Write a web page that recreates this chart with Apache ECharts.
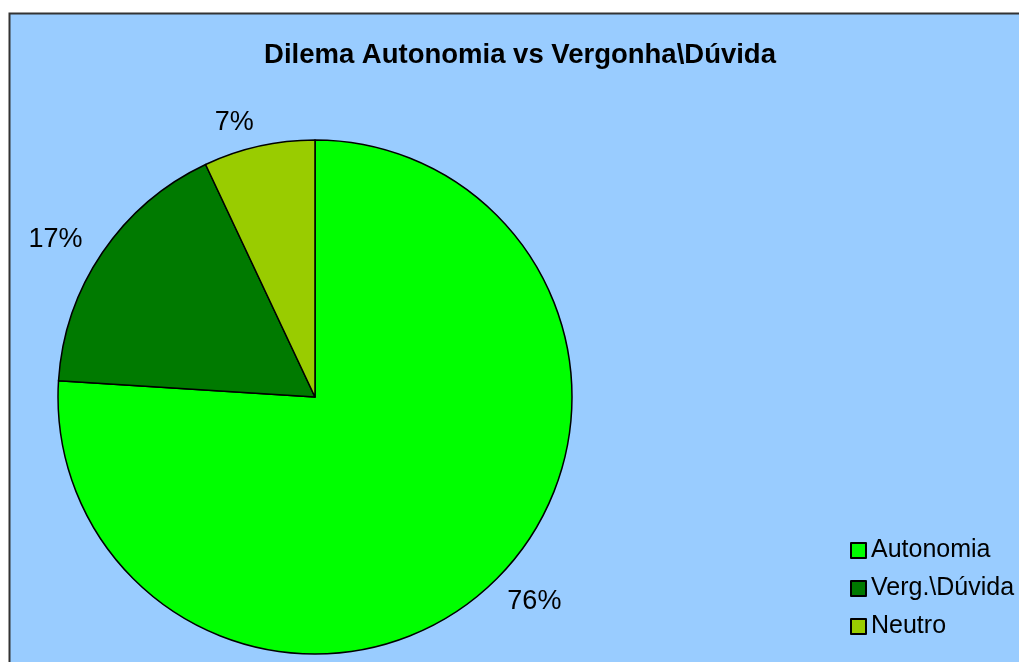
<!DOCTYPE html>
<html>
<head>
<meta charset="utf-8">
<script src="https://cdn.jsdelivr.net/npm/echarts@6/dist/echarts.min.js"></script>
<style>
html, body { margin: 0; padding: 0; background: #fff; }
#chart { width: 1019px; height: 662px; }
</style>
</head>
<body>
<div id="chart"></div>
<script>
"use strict";
var categories = ["Autonomia", "Verg.\\Dúvida", "Neutro"];
var values = [76, 17, 7];
var colors = ["#00FF00", "#007A00", "#99CC00"];

var chart = echarts.init(document.getElementById("chart"));

var data = categories.map(function (name, i) {
    return {name: name, value: values[i], itemStyle: {color: colors[i]}};
});

var options = {
    animation: false,
    backgroundColor: "#ffffff",
    textStyle: {fontFamily: "Liberation Sans, Arial, sans-serif"},
    graphic: [{
        type: "rect",
        z: -10,
        shape: {x: 9.5, y: 13.5, width: 1020, height: 660},
        style: {fill: "#99CCFF", stroke: "#333333", lineWidth: 2}
    }],
    title: {
        text: "Dilema Autonomia vs Vergonha\\Dúvida",
        left: 515,
        textAlign: "center",
        top: 36,
        textStyle: {fontSize: 27.5, fontWeight: "bold", color: "#000", fontFamily: "Liberation Sans"}
    },
    legend: {
        orient: "vertical",
        left: 845,
        top: 533,
        itemWidth: 15,
        itemHeight: 15,
        itemGap: 13,
        icon: "rect",
        textStyle: {fontSize: 25, color: "#000", fontFamily: "Liberation Sans"},
        data: categories
    },
    series: [{
        name: "Dilema",
        type: "pie",
        center: [315, 397],
        radius: 257,
        startAngle: 90,
        clockwise: true,
        data: data,
        itemStyle: {borderColor: "#000", borderWidth: 1.5},
        label: {
            show: true,
            position: "outside",
            formatter: "{d}%",
            fontSize: 27,
            color: "#000",
            fontFamily: "Liberation Sans",
            distanceToLabelLine: 0
        },
        labelLine: {show: false, length: 24, length2: 0},
        emphasis: {disabled: true}
    }]
};

chart.setOption(options);
</script>
</body>
</html>
